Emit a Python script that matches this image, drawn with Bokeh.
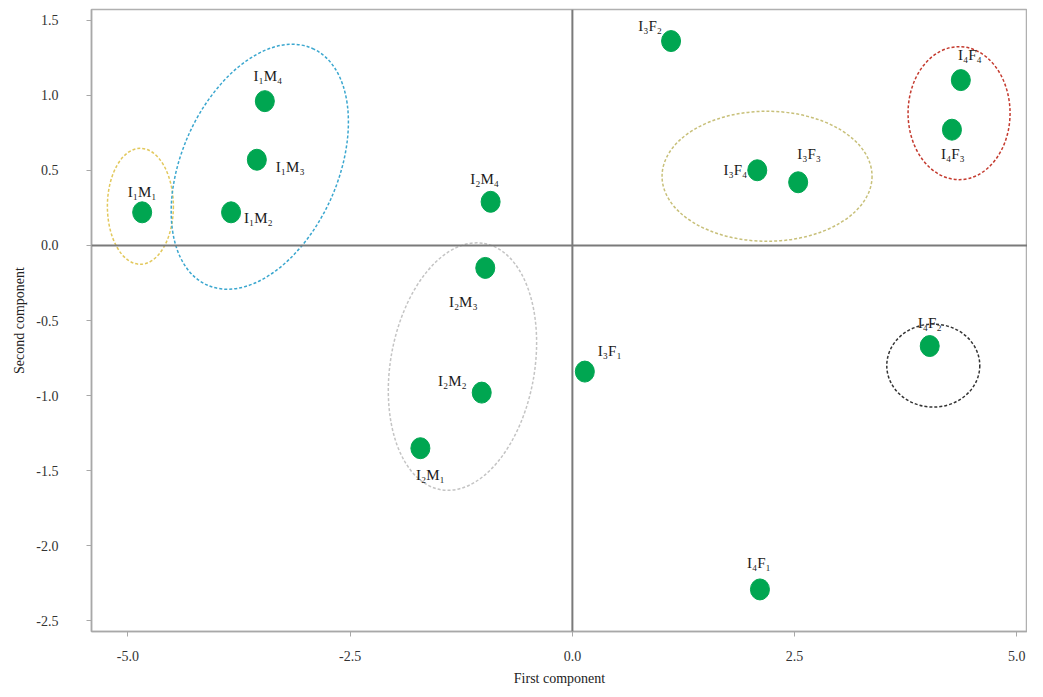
from bokeh.plotting import figure
from bokeh.models import ColumnDataSource, Range1d, FixedTicker, NumeralTickFormatter, Span
from bokeh.core.properties import value
from bokeh.embed import file_html
from bokeh.resources import INLINE
import math

# ---- data ----
labels = ["I₁M₁", "I₁M₂", "I₁M₃", "I₁M₄", "I₂M₁", "I₂M₂", "I₂M₃", "I₂M₄",
          "I₃F₁", "I₃F₂", "I₃F₃", "I₃F₄", "I₄F₁", "I₄F₂", "I₄F₃", "I₄F₄"]
first_component = [-4.84, -3.84, -3.55, -3.46, -1.71, -1.02, -0.98, -0.92,
                   0.14, 1.11, 2.54, 2.08, 2.11, 4.02, 4.27, 4.37]
second_component = [0.22, 0.22, 0.57, 0.96, -1.35, -0.98, -0.15, 0.29,
                    -0.84, 1.36, 0.42, 0.50, -2.29, -0.67, 0.77, 1.10]
x_ticks = [-5.0, -2.5, 0.0, 2.5, 5.0]
y_ticks = [-2.5, -2.0, -1.5, -1.0, -0.5, 0.0, 0.5, 1.0, 1.5]

# groups (ellipses) : member labels
groups = [
    (["I₁M₁"], "#e2c85c"),
    (["I₁M₂", "I₁M₃", "I₁M₄"], "#3ba7cf"),
    (["I₂M₁", "I₂M₂", "I₂M₃"], "#c4c4c4"),
    (["I₃F₃", "I₃F₄"], "#c8c07a"),
    (["I₄F₃", "I₄F₄"], "#c43a2e"),
    (["I₄F₂"], "#333333"),
]

# ---- styles (screen-pixel label offsets, ellipse geometry) ----
label_style = {
    "I₁M₁": (0, -20, "center"), "I₁M₂": (13, 6, "left"), "I₁M₃": (19, 7, "left"),
    "I₁M₄": (3, -25, "center"), "I₂M₁": (10, 27, "center"), "I₂M₂": (-15, -12, "right"),
    "I₂M₃": (-22, 34, "center"), "I₂M₄": (-6, -23, "center"), "I₃F₁": (13, -21, "left"),
    "I₃F₂": (-9, -15, "right"), "I₃F₃": (11, -28, "center"), "I₃F₄": (-10, 0, "right"),
    "I₄F₁": (-1, -26, "center"), "I₄F₂": (0, -23, "center"), "I₄F₃": (1, 24, "center"),
    "I₄F₄": (9, -25, "center"),
}
# per group: (dx_center, dy_center in data units relative to member mean, width px, height px, angle deg)
ellipse_style = [
    (-0.02, 0.04, 66, 116, 0),
    (0.1, -0.06, 259, 156, 66),
    (0.0, 0.02, 250, 144, 80),
    (-0.12, 0.0, 210, 130, 0),
    (0.03, -0.055, 102, 133, 0),
    (0.04, -0.13, 93, 83, 0),
]

FONT = "Liberation Serif"

p = figure(width=1027, height=688, output_backend="svg", toolbar_location=None,
           x_range=Range1d(-5.41, 5.12), y_range=Range1d(-2.57, 1.57),
           min_border_left=91, min_border_right=0, min_border_top=9, min_border_bottom=56)
p.grid.visible = False
p.outline_line_color = "#b0b0b0"
p.outline_line_width = 1.5
p.background_fill_color = "white"
p.border_fill_color = "white"

for ax in (p.xaxis[0], p.yaxis[0]):
    ax.axis_line_color = "#a8a8a8"
    ax.axis_line_width = 1.5
    ax.major_tick_line_color = "#a8a8a8"
    ax.major_tick_out = 5
    ax.major_tick_in = 0
    ax.minor_tick_line_color = None
    ax.major_label_text_font = FONT
    ax.major_label_text_font_size = "14px"
    ax.major_label_text_color = "#333333"
    ax.axis_label_text_font = FONT
    ax.axis_label_text_font_size = "14px"
    ax.axis_label_text_font_style = "normal"
    ax.axis_label_text_color = "#222222"
    ax.formatter = NumeralTickFormatter(format="0.0")

p.xaxis.ticker = FixedTicker(ticks=x_ticks)
p.yaxis.ticker = FixedTicker(ticks=y_ticks)
p.xaxis.axis_label = "First component"
p.yaxis.axis_label = "Second component"
p.xaxis.major_label_standoff = 14
p.xaxis.axis_label_standoff = 7
p.yaxis.major_label_standoff = 28
p.yaxis.axis_label_standoff = 6

p.add_layout(Span(location=0, dimension="width", line_color="#7a7a7a", line_width=2))
p.add_layout(Span(location=0, dimension="height", line_color="#7a7a7a", line_width=2))

# group ellipses
idx = {l: i for i, l in enumerate(labels)}
ex, ey, ew, eh, ea, ec = [], [], [], [], [], []
for (members, color), (dx, dy, w, h, a) in zip(groups, ellipse_style):
    mx = sum(first_component[idx[m]] for m in members) / len(members)
    my = sum(second_component[idx[m]] for m in members) / len(members)
    ex.append(mx + dx); ey.append(my + dy); ew.append(w); eh.append(h)
    ea.append(math.radians(a)); ec.append(color)
esrc = ColumnDataSource(dict(x=ex, y=ey, w=ew, h=eh, a=ea, c=ec))
p.ellipse(x="x", y="y", width="w", height="h", angle="a", source=esrc,
          width_units="screen", height_units="screen",
          fill_color=None, line_color="c", line_width=1.5, line_dash="3 2")

src = ColumnDataSource(dict(
    x=first_component, y=second_component, label=labels,
    dx=[label_style[l][0] for l in labels],
    dy=[label_style[l][1] for l in labels],
    align=[label_style[l][2] for l in labels],
))
p.ellipse(x="x", y="y", width=19, height=21, width_units="screen", height_units="screen",
          source=src, fill_color="#00a651", line_color="#00a651")
p.text(x="x", y="y", text="label", x_offset="dx", y_offset="dy", text_align="align",
       text_baseline="middle", source=src, text_font=value(FONT),
       text_font_size="15px", text_color="#1a1a1a")

open("out.html", "w").write(file_html(p, INLINE))
